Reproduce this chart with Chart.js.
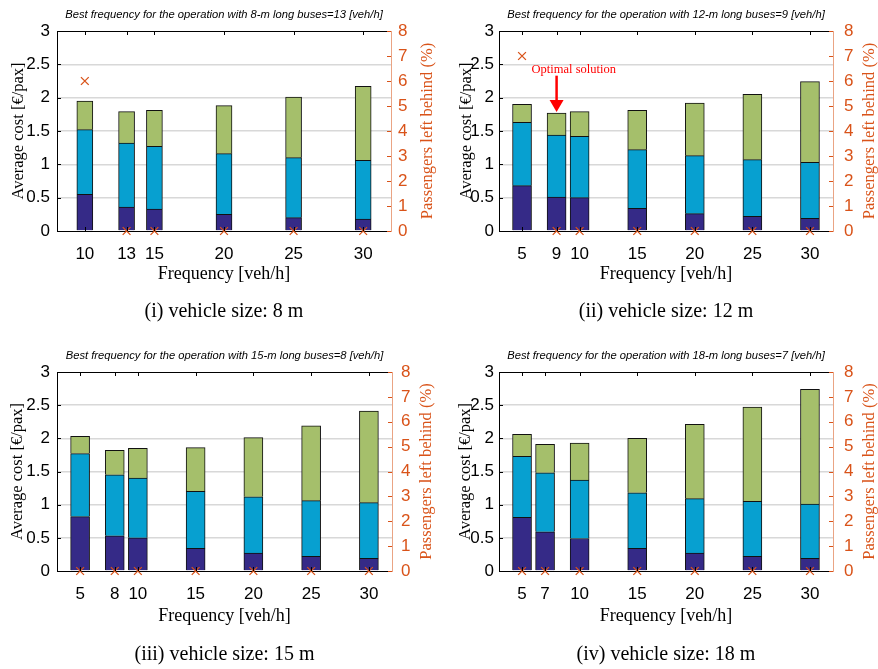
<!DOCTYPE html>
<html><head><meta charset="utf-8">
<script src="https://cdn.jsdelivr.net/npm/chart.js@4.4.1/dist/chart.umd.min.js"></script>
<style>
html,body{margin:0;padding:0;background:#fff;overflow:hidden;width:878px;height:669px;position:relative;}
.p{position:absolute;}
canvas{display:block;}
</style></head><body>
<div class="p" style="left:0;top:0;"><canvas id="c1" width="440" height="335"></canvas></div>
<div class="p" style="left:440px;top:0;"><canvas id="c2" width="445" height="335"></canvas></div>
<div class="p" style="left:0;top:340px;"><canvas id="c3" width="440" height="329"></canvas></div>
<div class="p" style="left:440px;top:340px;"><canvas id="c4" width="445" height="329"></canvas></div>
<script>
// ---------- DATA ----------
const costTicks = [0, 0.5, 1, 1.5, 2, 2.5, 3];
const paxTicks = [0, 1, 2, 3, 4, 5, 6, 7, 8];

const panelTitles = [
  'Best frequency for the operation with 8-m long buses=13 [veh/h]',
  'Best frequency for the operation with 12-m long buses=9 [veh/h]',
  'Best frequency for the operation with 15-m long buses=8 [veh/h]',
  'Best frequency for the operation with 18-m long buses=7 [veh/h]'
];
const captions = ['(i) vehicle size: 8 m', '(ii) vehicle size: 12 m', '(iii) vehicle size: 15 m', '(iv) vehicle size: 18 m'];

// (i) 8 m  -- positions on the frequency axis and their tick labels
const freq8   = [10, 13, 15, 20, 25, 30];
const labels8 = ['10', '13', '15', '20', '25', '30'];
const bottom8 = [0.55, 0.36, 0.33, 0.25, 0.20, 0.18];
const middle8 = [0.97, 0.96, 0.94, 0.91, 0.90, 0.88];
const top8    = [0.43, 0.47, 0.54, 0.72, 0.91, 1.11];
const behind8 = [6, 0, 0, 0, 0, 0];

// (ii) 12 m  (second bar sits at 8 on the axis in the source figure, labelled "9")
const freq12   = [5, 8, 10, 15, 20, 25, 30];
const labels12 = ['5', '9', '10', '15', '20', '25', '30'];
const bottom12 = [0.68, 0.51, 0.50, 0.34, 0.26, 0.22, 0.19];
const middle12 = [0.95, 0.93, 0.92, 0.88, 0.87, 0.85, 0.84];
const top12    = [0.27, 0.33, 0.37, 0.59, 0.79, 0.98, 1.21];
const behind12 = [7, 0, 0, 0, 0, 0, 0];

// (iii) 15 m
const freq15   = [5, 8, 10, 15, 20, 25, 30];
const labels15 = ['5', '8', '10', '15', '20', '25', '30'];
const bottom15 = [0.82, 0.53, 0.50, 0.34, 0.27, 0.22, 0.19];
const middle15 = [0.95, 0.92, 0.90, 0.86, 0.85, 0.84, 0.84];
const top15    = [0.26, 0.37, 0.45, 0.66, 0.89, 1.13, 1.38];
const behind15 = [0, 0, 0, 0, 0, 0, 0];

// (iv) 18 m
const freq18   = [5, 7, 10, 15, 20, 25, 30];
const labels18 = ['5', '7', '10', '15', '20', '25', '30'];
const bottom18 = [0.81, 0.59, 0.49, 0.34, 0.27, 0.22, 0.19];
const middle18 = [0.92, 0.89, 0.88, 0.84, 0.82, 0.83, 0.82];
const top18    = [0.33, 0.43, 0.56, 0.82, 1.12, 1.42, 1.73];
const behind18 = [0, 0, 0, 0, 0, 0, 0];

const optimalIndex12 = 1;
const optimalLabel = 'Optimal solution';

// ---------- STYLE ----------
const NAVY = '#352A87', BLUE = '#07A0D0', GREEN = '#A5BF6B', ORANGE = '#D95319';
const SANS = '"Liberation Sans", Arial, sans-serif';
const SERIF = '"Liberation Serif", "Times New Roman", serif';

const decor = {
  id: 'decor',
  afterDraw(chart, args, o) {
    const {ctx, chartArea: a} = chart;
    const xs = chart.scales.x, ys = chart.scales.y, y2 = chart.scales.y2;
    ctx.save();
    ctx.lineWidth = 1;
    ctx.strokeStyle = '#000';
    ctx.beginPath();
    ctx.moveTo(a.left, a.top + 0.5); ctx.lineTo(a.right, a.top + 0.5);
    for (const t of xs.ticks) {
      const px = Math.round(xs.getPixelForValue(t.value)) + 0.5;
      ctx.moveTo(px, a.top); ctx.lineTo(px, a.top + 4);
      ctx.moveTo(px, a.bottom); ctx.lineTo(px, a.bottom - 4);
    }
    for (const t of ys.ticks) {
      const py = Math.round(ys.getPixelForValue(t.value)) + 0.5;
      ctx.moveTo(a.left, py); ctx.lineTo(a.left + 4, py);
    }
    ctx.stroke();
    ctx.strokeStyle = ORANGE;
    ctx.beginPath();
    for (const t of y2.ticks) {
      const py = Math.round(y2.getPixelForValue(t.value)) + 0.5;
      ctx.moveTo(a.right, py); ctx.lineTo(a.right - 4, py);
    }
    ctx.stroke();
    const cx = (a.left + a.right) / 2;
    ctx.fillStyle = '#000';
    ctx.textAlign = 'center';
    ctx.textBaseline = 'middle';
    ctx.font = 'italic 11.2px ' + SANS;
    ctx.fillText(o.title, cx, a.top + o.titleDy);
    ctx.font = '20px ' + SERIF;
    ctx.fillText(o.caption, cx, a.bottom + o.captionDy);
    // right axis title, reading upwards
    ctx.save();
    ctx.fillStyle = ORANGE;
    ctx.font = '16.5px ' + SERIF;
    ctx.translate(a.right + o.y2TitleDx, (a.top + a.bottom) / 2);
    ctx.rotate(-Math.PI / 2);
    ctx.fillText(o.y2Title, 0, 0);
    ctx.restore();
    if (o.arrow) {
      const ar = o.arrow;
      const px = xs.getPixelForValue(ar.x);
      const tip = ys.getPixelForValue(ar.tip);
      const top = ys.getPixelForValue(ar.top);
      ctx.strokeStyle = '#FF0000'; ctx.fillStyle = '#FF0000';
      ctx.lineWidth = 2.5;
      ctx.beginPath(); ctx.moveTo(px, top); ctx.lineTo(px, tip - 10); ctx.stroke();
      ctx.beginPath(); ctx.moveTo(px - 7, tip - 12); ctx.lineTo(px + 7, tip - 12); ctx.lineTo(px, tip); ctx.closePath(); ctx.fill();
      ctx.font = '12.5px ' + SERIF;
      ctx.textAlign = 'left';
      ctx.fillText(ar.text, px + ar.textDx, ys.getPixelForValue(ar.textY));
    }
    ctx.restore();
  }
};

function makeChart(id, freq, labels, bottom, middle, top, behind, L) {
  const pts = arr => freq.map((f, i) => ({x: f, y: arr[i]}));
  const bar = (arr, color) => ({
    type: 'bar', data: pts(arr), backgroundColor: color, borderColor: '#111', borderWidth: 1,
    barThickness: L.bw, stack: 's', order: 1, xAxisID: 'x', yAxisID: 'y'
  });
  const cvs = document.getElementById(id);
  const H = cvs.height;
  let arrow = null;
  if (L.arrowIndex !== undefined) {
    const i = L.arrowIndex;
    const total = bottom[i] + middle[i] + top[i];
    arrow = {x: freq[i], tip: total + 0.015, top: total + 0.56, textY: total + 0.645, textDx: -25, text: optimalLabel};
  }
  new Chart(cvs, {
    type: 'bar',
    data: {
      datasets: [
        {type: 'line', data: pts(behind), showLine: false, pointStyle: 'crossRot', pointRadius: 5.5,
         pointBorderWidth: 1.3, borderColor: ORANGE, backgroundColor: ORANGE, xAxisID: 'x', yAxisID: 'y2', order: 0, clip: false},
        bar(bottom, NAVY), bar(middle, BLUE), bar(top, GREEN)
      ]
    },
    options: {
      responsive: false, animation: false, events: [],
      layout: {padding: {top: L.top, left: 0, right: 0, bottom: 0}},
      plugins: {
        legend: {display: false}, tooltip: {enabled: false}, title: {display: false},
        decor: {title: L.title, caption: L.caption, titleDy: -16, captionDy: L.capDy, arrow: arrow,
                y2Title: 'Passengers left behind (%)', y2TitleDx: L.y2TitleDx}
      },
      scales: {
        x: {
          type: 'linear', position: 'bottom', min: L.xmin, max: L.xmax, offset: false,
          grid: {display: false, drawTicks: false}, border: {color: '#000', width: 1},
          afterBuildTicks: s => { s.ticks = freq.map(v => ({value: v})); },
          ticks: {font: {family: SANS, size: 17}, color: '#000', padding: 13, maxRotation: 0, autoSkip: false,
                  callback: (v, i) => labels[i]},
          title: {display: true, text: 'Frequency [veh/h]', color: '#000', font: {family: SERIF, size: 18, lineHeight: 1},
                  padding: {top: 0, bottom: L.bottomH - L.freqDy - 9}},
          afterFit: s => { s.height = L.bottomH; }
        },
        y: {
          position: 'left', min: 0, max: 3,
          afterBuildTicks: s => { s.ticks = costTicks.map(v => ({value: v})); },
          grid: {drawTicks: false, lineWidth: 1.5,
                 color: c => (c.tick && (c.tick.value === 0 || c.tick.value === 3)) ? 'rgba(0,0,0,0)' : '#D8D8D8'},
          border: {color: '#000', width: 1},
          ticks: {font: {family: SANS, size: 17}, color: '#000', padding: L.yPad, callback: v => String(v)},
          title: {display: true, text: 'Average cost [€/pax]', color: '#000', font: {family: SERIF, size: 16.5, lineHeight: 1},
                  padding: {top: L.yTitlePad, bottom: 0}},
          afterFit: s => { s.width = L.leftW; }
        },
        y2: {
          position: 'right', min: 0, max: 8,
          afterBuildTicks: s => { s.ticks = paxTicks.map(v => ({value: v})); },
          grid: {display: false, drawTicks: false}, border: {color: '#EAA484', width: 1},
          ticks: {font: {family: SANS, size: 17}, color: ORANGE, padding: L.y2Pad, callback: v => String(v)},
          title: {display: false},
          afterFit: s => { s.width = L.rightW; }
        }
      }
    },
    plugins: [decor]
  });
}

makeChart('c1', freq8, labels8, bottom8, middle8, top8, behind8,
  {top: 31, bottomH: 104, leftW: 57, rightW: 49, xmin: 8, xmax: 32, bw: 16, yPad: 7, y2Pad: 7,
   yTitlePad: 10, y2TitleDx: 37, freqDy: 43, capDy: 81, title: panelTitles[0], caption: captions[0]});
makeChart('c2', freq12, labels12, bottom12, middle12, top12, behind12,
  {top: 31, bottomH: 104, leftW: 59, rightW: 52, xmin: 3, xmax: 32, bw: 19, yPad: 5, y2Pad: 11,
   yTitlePad: 18, y2TitleDx: 37, freqDy: 43, capDy: 81, title: panelTitles[1], caption: captions[1],
   arrowIndex: optimalIndex12});
makeChart('c3', freq15, labels15, bottom15, middle15, top15, behind15,
  {top: 32, bottomH: 98, leftW: 57, rightW: 48, xmin: 3, xmax: 32, bw: 19, yPad: 7, y2Pad: 9,
   yTitlePad: 9, y2TitleDx: 35, freqDy: 45, capDy: 84, title: panelTitles[2], caption: captions[2]});
makeChart('c4', freq18, labels18, bottom18, middle18, top18, behind18,
  {top: 32, bottomH: 98, leftW: 59, rightW: 52, xmin: 3, xmax: 32, bw: 19, yPad: 5, y2Pad: 11,
   yTitlePad: 17, y2TitleDx: 37, freqDy: 45, capDy: 84, title: panelTitles[3], caption: captions[3]});
</script>
</body></html>
